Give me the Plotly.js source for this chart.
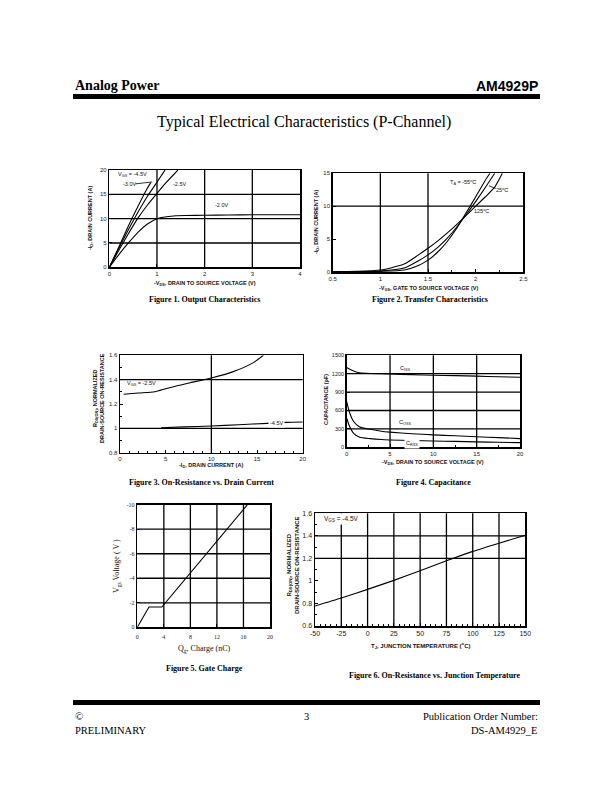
<!DOCTYPE html>
<html><head><meta charset="utf-8">
<script src="https://cdn.plot.ly/plotly-3.0.1.min.js"></script>
<style>html,body{margin:0;padding:0;background:#fff}#chart{width:612px;height:792px}</style>
</head><body><div id="chart"></div>
<script>
// ---------- Figure 1: Output characteristics ----------
const f1XTicks = [0,1,2,3,4];
const f1YTicks = [0,5,10,15,20];
const f1GridX = [1,2,3];
const f1GridY = [5,10,15];
const f1VdsA = [0,0.2,0.4,0.6,0.8,0.87];
const f1IdA  = [0,4.2,8.5,12.5,16.3,17.4];
const f1VdsB = [0,0.2,0.4,0.6,0.8,1.0,1.17];
const f1IdB  = [0,3.9,7.7,11.3,14.6,17.5,20];
const f1VdsC = [0,0.2,0.4,0.6,0.8,1.0,1.2,1.44];
const f1IdC  = [0,3.5,6.9,10.1,12.8,15.2,17.5,20];
const f1VdsD = [0,0.2,0.4,0.6,0.8,1.0,1.2,1.4,1.6,2.0,2.5,3.0,3.5,4.0];
const f1IdD  = [0,2.6,5.0,7.2,8.9,10.0,10.4,10.6,10.65,10.7,10.75,10.8,10.8,10.8];

// ---------- Figure 2: Transfer characteristics ----------
const f2XTicks = [0.5,1,1.5,2,2.5];
const f2YTicks = [0,5,10,15];
const f2GridX = [1,1.5];
const f2GridY = [10];
const f2VgsM55 = [0.5,0.75,1.0,1.25,1.4,1.5,1.6,1.7,1.8,1.9,2.0,2.1,2.15];
const f2IdM55  = [0.02,0.05,0.1,0.3,1.0,1.8,3.0,4.6,6.6,9.0,11.4,13.9,15];
const f2Vgs25  = [0.5,0.75,1.0,1.25,1.4,1.5,1.6,1.7,1.8,1.9,2.0,2.1,2.2];
const f2Id25   = [0.03,0.07,0.15,0.6,1.7,2.6,3.7,5.1,6.8,8.7,10.7,12.8,15];
const f2Vgs125 = [0.5,0.75,1.0,1.25,1.4,1.5,1.6,1.7,1.8,1.9,2.0,2.1,2.2,2.28];
const f2Id125  = [0.05,0.1,0.3,1.2,2.6,3.6,4.7,5.9,7.2,8.6,10.0,11.4,12.9,15];

// ---------- Figure 3: On-resistance vs drain current ----------
const f3XTicks = [0,5,10,15,20];
const f3YTicks = [0.8,1,1.2,1.4,1.6];
const f3YTickText = ['0.8','1','1.2','1.4','1.6'];
const f3GridX = [10];
const f3GridY = [1.0,1.4];
const f3Id25  = [0.4,2,3.8,5.2,7.7,10.1,12.4,14.6,15.7];
const f3R25   = [1.28,1.29,1.30,1.33,1.375,1.416,1.466,1.54,1.6];
const f3Id45  = [4.5,7,10,13,16.1,18.2,20];
const f3R45   = [1.005,1.012,1.019,1.03,1.041,1.049,1.052];

// ---------- Figure 4: Capacitance ----------
const f4XTicks = [0,5,10,15,20];
const f4YTicks = [0,300,600,900,1200,1500];
const f4GridX = [5,10,15];
const f4GridY = [300,600,900,1200];
const f4Vds   = [0,0.3,0.8,1.5,2.7,4,5,7.5,10,12.5,15,17.5,20];
const f4Ciss  = [1300,1275,1245,1215,1203,1200,1195,1185,1175,1168,1160,1150,1142];
const f4Coss  = [745,580,420,330,293,262,248,222,202,188,172,158,142];
const f4Crss  = [473,350,228,163,141,126,120,110,103,96,88,82,76];

// ---------- Figure 5: Gate charge ----------
const f5XTicks = [0,4,8,12,16,20];
const f5YTicks = [0,-2,-4,-6,-8,-10];
const f5YTickText = ['0','-2','-4','-6','-8','-10'];
const f5GridX = [4,8,12,16];
const f5GridY = [-2,-4,-6,-8];
const f5Qg  = [0,1.76,3.7,16.6];
const f5Vgs = [0,-1.65,-1.65,-10];

// ---------- Figure 6: On-resistance vs junction temperature ----------
const f6XTicks = [-50,-25,0,25,50,75,100,125,150];
const f6XTickText = ['-50','-25','0','25','50','75','100','125','150'];
const f6YTicks = [0.6,0.8,1,1.2,1.4,1.6];
const f6YTickText = ['0.6','0.8','1','1.2','1.4','1.6'];
const f6GridX = [-25,0,25,50,75,100,125];
const f6GridY = [1.2,1.4];
const f6Tj = [-50,-25,0,25,50,75,100,125,150];
const f6R  = [0.777,0.848,0.925,1.005,1.09,1.178,1.262,1.335,1.405];

// ---------- layout helpers ----------
const W = 612, H = 792;
const SANS = 'Liberation Sans, Arial, sans-serif';
const SERIF = 'Liberation Serif, Times New Roman, serif';
function px(x){return x/W;}
function py(y){return 1-y/H;}
function axisBase(extra){
  return Object.assign({showgrid:false, zeroline:false, showline:true, mirror:true,
    linecolor:'#000', linewidth:1.5, ticks:'inside', ticklen:3, tickwidth:1, tickcolor:'#000',
    tickfont:{family:SANS, size:6, color:'#222'}, fixedrange:true, tickmode:'array'}, extra);
}
const boxes = {
  1:[109.3,300,170,267.3],
  2:[332.7,523.3,173.3,272],
  3:[120,302.7,355.3,452.7],
  4:[346.7,520,355.3,447.3],
  5:[137.3,270,504.7,627.3],
  6:[315,525.3,513.3,626]
};
const layout = {width:W, height:H, margin:{l:0,r:0,t:0,b:0}, paper_bgcolor:'#fff', plot_bgcolor:'#fff',
  showlegend:false, shapes:[], annotations:[]};
function setAxes(n, xr, yr, xt, yt, xextra, yextra){
  const b = boxes[n];
  const xs = n===1?'':String(n), ys = xs;
  layout['xaxis'+xs] = axisBase(Object.assign({domain:[px(b[0]),px(b[1])], range:xr, anchor:'y'+xs, tickvals:xt}, xextra||{}));
  layout['yaxis'+ys] = axisBase(Object.assign({domain:[py(b[3]),py(b[2])], range:yr, anchor:'x'+xs, tickvals:yt}, yextra||{}));
}
setAxes(1,[0,4],[0,20],f1XTicks,f1YTicks);
setAxes(2,[0.5,2.5],[0,15],f2XTicks,f2YTicks,{minor:{ticks:'inside',ticklen:2,tickvals:[1.75,2.25],tickcolor:'#000'}});
setAxes(3,[0,20],[0.8,1.6],f3XTicks,f3YTicks,{minor:{ticks:'inside',ticklen:2,dtick:1,tickcolor:'#000'}},{ticktext:f3YTickText,minor:{ticks:'inside',ticklen:2,dtick:0.1,tickcolor:'#000'}});
setAxes(4,[0,20],[0,1500],f4XTicks,f4YTicks,{minor:{ticks:'inside',ticklen:2,dtick:2.5,tickcolor:'#000'}},{tickfont:{family:SANS,size:5.5,color:'#222'}});
setAxes(5,[0,20],[0,-10],f5XTicks,f5YTicks,{tickfont:{family:SERIF,size:6,color:'#222'},ticklabelstandoff:3},{ticktext:f5YTickText,tickfont:{family:SERIF,size:6,color:'#222'}});
setAxes(6,[-50,150],[0.6,1.6],f6XTicks,f6YTicks,{ticktext:f6XTickText,tickfont:{family:SANS,size:7,color:'#222'},minor:{ticks:'inside',ticklen:2,dtick:5,tickcolor:'#000'}},{ticktext:f6YTickText,tickfont:{family:SANS,size:7,color:'#222'},minor:{ticks:'inside',ticklen:2,dtick:0.1,tickcolor:'#000'}});

function grid(n, gx, gy){
  const s = n===1?'':String(n);
  gx.forEach(v=>layout.shapes.push({type:'line', xref:'x'+s, yref:'y'+s+' domain', x0:v, x1:v, y0:0, y1:1, line:{color:'#000', width:1.3}, layer:'below'}));
  gy.forEach(v=>layout.shapes.push({type:'line', xref:'x'+s+' domain', yref:'y'+s, x0:0, x1:1, y0:v, y1:v, line:{color:'#000', width:1.3}, layer:'below'}));
}
grid(1,f1GridX,f1GridY); grid(2,f2GridX,f2GridY); grid(3,f3GridX,f3GridY);
grid(4,f4GridX,f4GridY); grid(5,f5GridX,f5GridY); grid(6,f6GridX,f6GridY);

const data = [];
function line(n, x, y, w){
  const s = n===1?'':String(n);
  data.push({type:'scatter', mode:'lines', x:x, y:y, xaxis:'x'+s, yaxis:'y'+s,
    line:{color:'#000', width:w||1.1, shape:'spline', smoothing:0.6}, hoverinfo:'skip'});
}
line(1,f1VdsA,f1IdA); line(1,f1VdsB,f1IdB); line(1,f1VdsC,f1IdC); line(1,f1VdsD,f1IdD);
line(2,f2VgsM55,f2IdM55); line(2,f2Vgs25,f2Id25); line(2,f2Vgs125,f2Id125);
line(3,f3Id25,f3R25); line(3,f3Id45,f3R45);
line(4,f4Vds,f4Ciss); line(4,f4Vds,f4Coss); line(4,f4Vds,f4Crss);
data.push({type:'scatter', mode:'lines', x:f5Qg, y:f5Vgs, xaxis:'x5', yaxis:'y5', line:{color:'#000', width:1.1}, hoverinfo:'skip'});
line(6,f6Tj,f6R);

// annotations
function ann(text, x, y, opts){
  layout.annotations.push(Object.assign({text:text, x:x, y:y, showarrow:false, xanchor:'center', yanchor:'middle',
    font:{family:SANS, size:5.5, color:'#111'}}, opts||{}));
}
function pann(text, x, y, opts){ ann(text, px(x), py(y), Object.assign({xref:'paper', yref:'paper'}, opts||{})); }
// in-plot labels
ann('V<sub>GS</sub> = -4.5V', 0.48, 19.1, {xref:'x', yref:'y'});
ann('-3.0V', 0.42, 17.1, {xref:'x', yref:'y'});
ann('-2.5V', 1.48, 17.1, {xref:'x', yref:'y'});
ann('-2.0V', 2.36, 12.8, {xref:'x', yref:'y'});
layout.shapes.push({type:'line', xref:'x', yref:'y', x0:0.55, y0:17.15, x1:0.9, y1:17.55, line:{color:'#000', width:0.8}});
ann('T<sub>A</sub> = -55<sup>o</sup>C', 1.87, 13.6, {xref:'x2', yref:'y2', bgcolor:'#fff'});
ann('25<sup>o</sup>C', 2.28, 12.5, {xref:'x2', yref:'y2'});
ann('125<sup>o</sup>C', 2.06, 9.3, {xref:'x2', yref:'y2'});
layout.shapes.push({type:'line', xref:'x2', yref:'y2', x0:2.14, y0:13.1, x1:2.21, y1:12.7, line:{color:'#000', width:0.8}});
ann('V<sub>GS</sub> = -2.5V', 2.3, 1.37, {xref:'x3', yref:'y3'});
ann('-4.5V', 17.1, 1.045, {xref:'x3', yref:'y3', bgcolor:'#fff'});
ann('C<sub>ISS</sub>', 6.8, 1290, {xref:'x4', yref:'y4'});
ann('C<sub>OSS</sub>', 6.8, 400, {xref:'x4', yref:'y4'});
ann('C<sub>RSS</sub>', 7.5, 70, {xref:'x4', yref:'y4', bgcolor:'#fff'});
ann('V<sub>GS</sub> = -4.5V', -24.6, 1.55, {xref:'x6', yref:'y6', bgcolor:'#fff', font:{family:SANS, size:6.5, color:'#111'}});

// axis titles
const tb = {family:SANS, size:5.5, color:'#111'};
pann('<b>-V<sub>DS</sub>, DRAIN TO SOURCE VOLTAGE (V)</b>', 205, 283.5, {font:tb});
pann('<b>-I<sub>D</sub>, DRAIN CURRENT (A)</b>', 90, 218, {font:tb, textangle:-90});
pann('<b>-V<sub>GS</sub>, GATE TO SOURCE VOLTAGE (V)</b>', 428, 288.5, {font:tb});
pann('<b>-I<sub>D</sub>, DRAIN CURRENT (A)</b>', 317, 222, {font:tb, textangle:-90});
pann('<b>-I<sub>D</sub>, DRAIN CURRENT (A)</b>', 211, 466, {font:tb});
pann('<b>R<sub>DS(ON)</sub>, NORMALIZED<br>DRAIN-SOURCE ON-RESISTANCE</b>', 99, 398, {font:tb, textangle:-90});
pann('<b>-V<sub>DS</sub>, DRAIN TO SOURCE VOLTAGE (V)</b>', 433, 463, {font:tb});
pann('<b>CAPACITANCE (pF)</b>', 326, 400, {font:tb, textangle:-90});
pann('Q<sub>g</sub>, Charge (nC)', 204, 649, {font:{family:SERIF, size:8, color:'#111'}});
pann('V<sub>gs</sub> Voltage ( V )', 117, 566, {font:{family:SERIF, size:8, color:'#111'}, textangle:-90});
pann('<b>T<sub>J</sub>, JUNCTION TEMPERATURE (<sup>o</sup>C)</b>', 420, 645.5, {font:{family:SANS, size:6, color:'#111'}});
pann('<b>R<sub>DS(ON)</sub>, NORMALIZED<br>DRAIN-SOURCE ON-RESISTANCE</b>', 293, 565, {font:{family:SANS, size:6, color:'#111'}, textangle:-90});

// captions
const cf = {family:SERIF, size:8, color:'#000'};
pann('<b>Figure 1. Output Characteristics</b>', 205, 299, {font:cf});
pann('<b>Figure 2. Transfer Characteristics</b>', 430, 299, {font:cf});
pann('<b>Figure 3. On-Resistance vs. Drain Current</b>', 201, 482, {font:cf});
pann('<b>Figure 4. Capacitance</b>', 433, 482, {font:cf});
pann('<b>Figure 5. Gate Charge</b>', 204, 668, {font:cf});
pann('<b>Figure 6. On-Resistance vs. Junction Temperature</b>', 434, 675, {font:cf});

// page header / footer
pann('<b>Analog Power</b>', 73, 86, {font:{family:SERIF, size:14, color:'#000'}, xanchor:'left'});
pann('<b>AM4929P</b>', 540, 86, {font:{family:SANS, size:14, color:'#000'}, xanchor:'right'});
layout.shapes.push({type:'rect', xref:'paper', yref:'paper', x0:px(73), x1:px(540), y0:py(99), y1:py(94), fillcolor:'#000', line:{width:0}});
pann('Typical Electrical Characteristics (P-Channel)', 304, 122, {font:{family:SERIF, size:16, color:'#000'}});
layout.shapes.push({type:'rect', xref:'paper', yref:'paper', x0:px(73), x1:px(540), y0:py(705), y1:py(700), fillcolor:'#000', line:{width:0}});
pann('©', 73, 716, {font:{family:SERIF, size:11, color:'#000'}, xanchor:'left'});
pann('PRELIMINARY', 73, 730, {font:{family:SERIF, size:10.5, color:'#000'}, xanchor:'left'});
pann('3', 306, 716, {font:{family:SERIF, size:10.5, color:'#000'}});
pann('Publication Order Number:', 540, 716, {font:{family:SERIF, size:10.5, color:'#000'}, xanchor:'right'});
pann('DS-AM4929_E', 540, 730, {font:{family:SERIF, size:10.5, color:'#000'}, xanchor:'right'});

Plotly.newPlot('chart', data, layout, {staticPlot:true, displayModeBar:false});
</script></body></html>
